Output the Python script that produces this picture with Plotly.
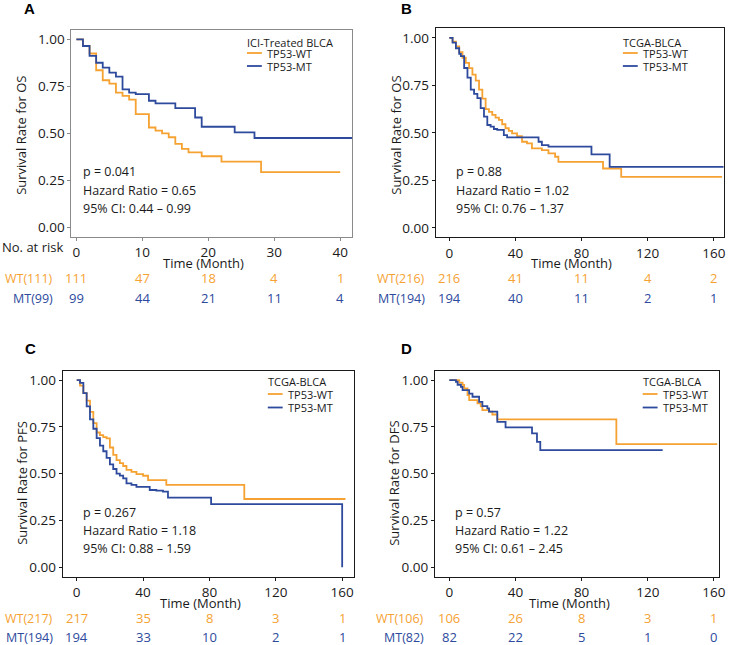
import plotly.graph_objects as go

W, H = 734, 645
ORANGE = '#F5A232'
BLUE = '#2D4A9D'
FONT = 'Open Sans'

# ---- data ----
# Panel A: ICI-treated BLCA, OS
a_wt_t = [0, 1, 2, 3, 4, 5, 6, 7, 8, 9, 11, 12, 13, 14, 15, 16, 17, 19, 22, 28, 40]
a_wt_s = [1.0, 0.965, 0.925, 0.836, 0.783, 0.765, 0.717, 0.70, 0.68, 0.603, 0.532, 0.515,
          0.501, 0.48, 0.445, 0.418, 0.40, 0.379, 0.351, 0.295, 0.295]
a_mt_t = [0, 1, 2, 3, 4, 5, 6, 7, 8, 9, 11, 12, 15, 18, 19, 24, 27, 42]
a_mt_s = [1.0, 0.965, 0.912, 0.876, 0.85, 0.823, 0.802, 0.735, 0.717, 0.709, 0.674, 0.66,
          0.635, 0.585, 0.536, 0.506, 0.476, 0.476]
a_ticks = [0, 10, 20, 30, 40]
a_risk_wt = [111, 47, 18, 4, 1]
a_risk_mt = [99, 44, 21, 11, 4]

# Panel B: TCGA-BLCA, OS
b_wt_t = [0, 2, 4, 6, 8, 10, 12, 14, 16, 18, 20, 22, 24, 26, 28, 30, 32, 34, 36, 38, 41,
          44, 47, 50, 56, 60, 64, 66, 93, 104, 165]
b_wt_s = [1.0, 0.98, 0.955, 0.925, 0.895, 0.868, 0.84, 0.806, 0.775, 0.727, 0.68, 0.625,
          0.61, 0.594, 0.58, 0.568, 0.545, 0.524, 0.51, 0.497, 0.483, 0.453, 0.444, 0.418,
          0.409, 0.392, 0.374, 0.347, 0.312, 0.268, 0.268]
b_mt_t = [0, 2, 4, 6, 7, 9, 11, 13, 15, 17, 19, 21, 23, 25, 27, 29, 33, 35, 54, 56, 60,
          86, 97, 166]
b_mt_s = [1.0, 0.975, 0.945, 0.915, 0.904, 0.841, 0.79, 0.727, 0.705, 0.683, 0.63, 0.585,
          0.541, 0.532, 0.52, 0.515, 0.488, 0.476, 0.453, 0.435, 0.427, 0.386, 0.321, 0.321]
b_ticks = [0, 40, 80, 120, 160]
b_risk_wt = [216, 41, 11, 4, 2]
b_risk_mt = [194, 40, 11, 2, 1]

# Panel C: TCGA-BLCA, PFS
c_wt_t = [0, 2, 4, 6, 8, 10, 12, 14, 16, 18, 20, 22, 24, 26, 28, 30, 33, 36, 40, 43, 54,
          101, 162]
c_wt_s = [1.0, 0.97, 0.93, 0.89, 0.83, 0.77, 0.72, 0.706, 0.695, 0.689, 0.64, 0.6, 0.573,
          0.556, 0.541, 0.52, 0.51, 0.498, 0.489, 0.466, 0.44, 0.365, 0.365]
c_mt_t = [0, 2, 4, 6, 8, 10, 12, 14, 16, 18, 20, 22, 24, 26, 28, 30, 33, 36, 44, 48, 52,
          55, 81, 160]
c_mt_s = [1.0, 0.985, 0.93, 0.86, 0.79, 0.74, 0.69, 0.65, 0.62, 0.585, 0.55, 0.525, 0.5,
          0.49, 0.475, 0.448, 0.44, 0.43, 0.413, 0.41, 0.404, 0.372, 0.338, 0.0]
c_ticks = [0, 40, 80, 120, 160]
c_risk_wt = [217, 35, 8, 3, 1]
c_risk_mt = [194, 33, 10, 2, 1]

# Panel D: TCGA-BLCA, DFS
d_wt_t = [0, 6, 8, 9, 11, 12, 17, 19, 20, 24, 26, 29, 101, 162]
d_wt_s = [1.0, 0.986, 0.974, 0.955, 0.92, 0.893, 0.875, 0.86, 0.84, 0.831, 0.816, 0.79,
          0.658, 0.658]
d_mt_t = [0, 4, 5, 7, 8, 12, 14, 18, 20, 23, 24, 29, 34, 50, 53, 55, 129]
d_mt_s = [1.0, 0.991, 0.975, 0.964, 0.946, 0.928, 0.911, 0.884, 0.861, 0.849, 0.831, 0.777,
          0.747, 0.715, 0.67, 0.626, 0.626]
d_ticks = [0, 40, 80, 120, 160]
d_risk_wt = [106, 26, 8, 3, 1]
d_risk_mt = [82, 22, 5, 1, 0]


def px(x):
    return x / W


def py(y):
    return 1 - y / H


panels = [
    dict(letter='A', wt=(a_wt_t, a_wt_s), mt=(a_mt_t, a_mt_s), ticks=a_ticks,
         rwt=a_risk_wt, rmt=a_risk_mt, xr=[-0.75, 41.8], box=(72, 355, 30, 237),
         ytitle='Survival Rate for OS', legtitle='ICI-Treated BLCA',
         stats=['p = 0.041', 'Hazard Ratio = 0.65', '95% CI: 0.44 \u2013 0.99'],
         lab_wt='WT(111)', lab_mt='MT(99)', line='#8a8a8a',
         letter_xy=(30, 8), ytitle_xy=(21, 135), stats_x=83, stats_y=(172, 190, 208),
         leg_x=248, leg_y=(42, 53, 66), lab_x=54, rows=(247, 263, 278, 298), atrisk=True),
    dict(letter='B', wt=(b_wt_t, b_wt_s), mt=(b_mt_t, b_mt_s), ticks=b_ticks,
         rwt=b_risk_wt, rmt=b_risk_mt, xr=[-8.2, 166], box=(439.3, 729.7, 28.3, 237.3),
         ytitle='Survival Rate for OS', legtitle='TCGA-BLCA',
         stats=['p = 0.88', 'Hazard Ratio = 1.02', '95% CI: 0.76 \u2013 1.37'],
         lab_wt='WT(216)', lab_mt='MT(194)', line='#1a1a1a',
         letter_xy=(410, 8), ytitle_xy=(399, 135), stats_x=458.5, stats_y=(172, 190, 208),
         leg_x=627, leg_y=(42, 53, 66), lab_x=430, rows=(247, 263, 278, 298), atrisk=False),
    dict(letter='C', wt=(c_wt_t, c_wt_s), mt=(c_mt_t, c_mt_s), ticks=c_ticks,
         rwt=c_risk_wt, rmt=c_risk_mt, xr=[-8.4, 167], box=(63.3, 356.7, 370.7, 576.7),
         ytitle='Survival Rate for PFS', legtitle='TCGA-BLCA',
         stats=['p = 0.267', 'Hazard Ratio = 1.18', '95% CI: 0.88 \u2013 1.59'],
         lab_wt='WT(217)', lab_mt='MT(194)', line='#1a1a1a',
         letter_xy=(31, 348), ytitle_xy=(22, 483), stats_x=83, stats_y=(512.5, 530.5, 548.5),
         leg_x=269, leg_y=(381.5, 394, 407.5), lab_x=54, rows=(586.5, 602.5, 618, 637),
         atrisk=False),
    dict(letter='D', wt=(d_wt_t, d_wt_s), mt=(d_mt_t, d_mt_s), ticks=d_ticks,
         rwt=d_risk_wt, rmt=d_risk_mt, xr=[-8.6, 163.3], box=(438.7, 725.3, 370.7, 576.7),
         ytitle='Survival Rate for DFS', legtitle='TCGA-BLCA',
         stats=['p = 0.57', 'Hazard Ratio = 1.22', '95% CI: 0.61 \u2013 2.45'],
         lab_wt='WT(106)', lab_mt='MT(82)', line='#1a1a1a',
         letter_xy=(410, 348), ytitle_xy=(397, 483), stats_x=458, stats_y=(512.5, 530.5, 548.5),
         leg_x=647, leg_y=(381.5, 394, 407.5), lab_x=429, rows=(586.5, 602.5, 618, 637),
         atrisk=False),
]

fig = go.Figure()
annotations = []
shapes = []


def note(text, x, y, size=12.5, color='#1a1a1a', xanchor='center', xref='paper', **kw):
    xx = px(x) if xref == 'paper' else x
    annotations.append(dict(text=text, x=xx, y=py(y), xref=xref, yref='paper', showarrow=False,
                            xanchor=xanchor, yanchor='middle', borderpad=0,
                            font=dict(family=kw.pop('family', FONT), size=size, color=color), **kw))


for i, p in enumerate(panels, start=1):
    xa = 'x' if i == 1 else f'x{i}'
    ya = 'y' if i == 1 else f'y{i}'
    x0, x1, y0, y1 = p['box']
    for (t, s), col in ((p['wt'], ORANGE), (p['mt'], BLUE)):
        fig.add_trace(go.Scatter(x=t, y=s, mode='lines', line=dict(color=col, width=1.8, shape='hv'),
                                 xaxis=xa, yaxis=ya, showlegend=False, hoverinfo='skip'))
    axis_common = dict(showline=True, mirror=True, linecolor=p['line'], linewidth=1.2,
                       ticks='outside', ticklen=3, tickcolor=p['line'], showgrid=False,
                       zeroline=False, tickfont=dict(family=FONT, size=13.5, color='#1a1a1a'))
    fig.update_layout(**{
        ('xaxis' if i == 1 else f'xaxis{i}'): dict(
            domain=[px(x0), px(x1)], range=p['xr'], anchor=ya, tickvals=p['ticks'], **axis_common),
        ('yaxis' if i == 1 else f'yaxis{i}'): dict(
            domain=[py(y1), py(y0)], range=[-0.05, 1.05], anchor=xa,
            tickvals=[0, 0.25, 0.5, 0.75, 1.0], tickformat='.2f', **axis_common),
    })

    note(f'<b>{p["letter"]}</b>', *p['letter_xy'], size=15, color='#000', family='Liberation Sans')
    note(p['ytitle'], *p['ytitle_xy'], size=13, textangle=-90)
    for line_text, yy in zip(p['stats'], p['stats_y']):
        note(line_text, p['stats_x'], yy, xanchor='left')
    # legend
    lx = p['leg_x']
    note(p['legtitle'], lx, p['leg_y'][0], size=11, xanchor='left')
    for name, col, yy in (('TP53-WT', ORANGE, p['leg_y'][1]), ('TP53-MT', BLUE, p['leg_y'][2])):
        shapes.append(dict(type='line', xref='paper', yref='paper', x0=px(lx + 1), x1=px(lx + 16),
                           y0=py(yy), y1=py(yy), line=dict(color=col, width=1.8)))
        note(name, lx + 20, yy, size=11, xanchor='left')
    # x title and risk table
    r_tick, r_title, r_wt, r_mt = p['rows']
    note('Time (Month)', (x0 + x1) / 2 - 8, r_title, size=13)
    if p['atrisk']:
        note('No. at risk', 65, r_tick, size=13, xanchor='right')
    note(p['lab_wt'], p['lab_x'], r_wt, color=ORANGE, xanchor='right')
    note(p['lab_mt'], p['lab_x'], r_mt, color=BLUE, xanchor='right')
    for tv, nw, nm in zip(p['ticks'], p['rwt'], p['rmt']):
        note(str(nw), tv, r_wt, size=13, color=ORANGE, xref=xa)
        note(str(nm), tv, r_mt, size=13, color=BLUE, xref=xa)

fig.update_layout(width=W, height=H, margin=dict(l=0, r=0, t=0, b=0),
                  plot_bgcolor='white', paper_bgcolor='white',
                  annotations=annotations, shapes=shapes)

fig.write_html('out.html', config={'displayModeBar': False},
               post_script="document.body.style.margin='0';")
